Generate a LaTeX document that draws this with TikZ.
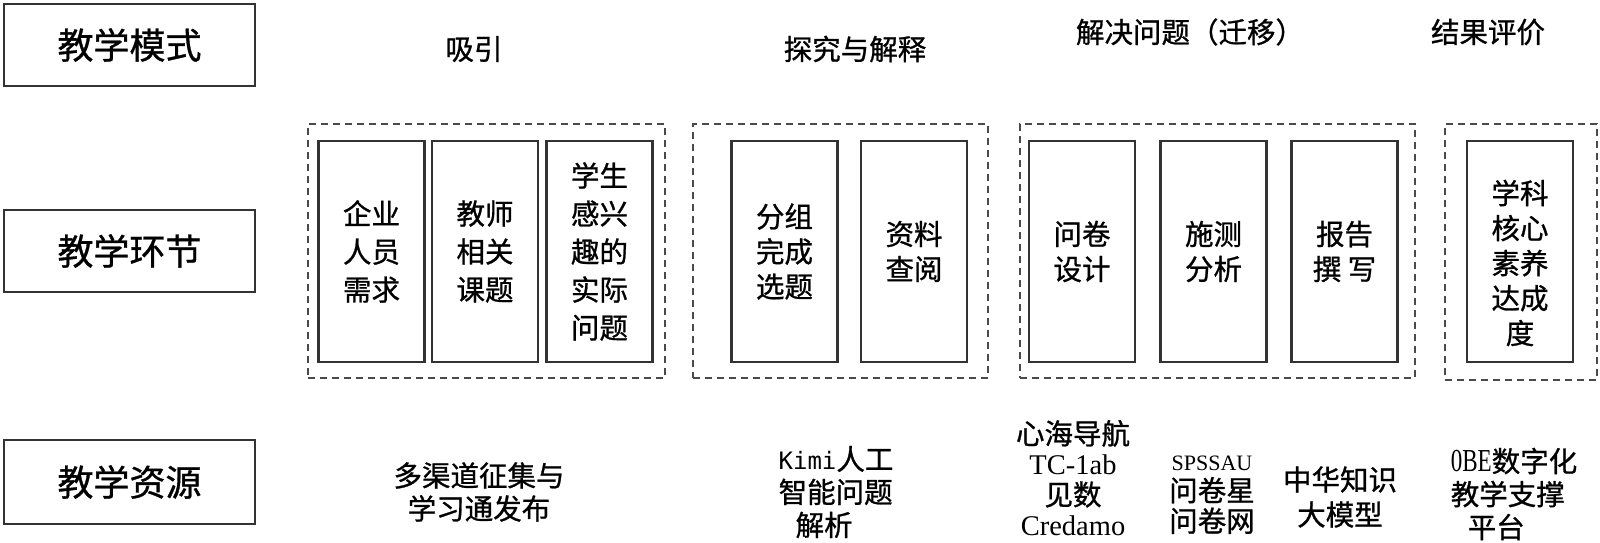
\documentclass[tikz,border=0pt]{standalone}
\usepackage{fontspec}
\setmainfont{Noto Sans CJK SC}[FakeBold=0.9]
\newfontfamily\serifL{Liberation Serif}
\newfontfamily\condserif[FakeStretch=0.72]{Liberation Serif}
\newfontfamily\monoL{DejaVu Sans Mono}
\definecolor{boxc}{HTML}{333333}
\definecolor{dashc}{HTML}{4A4A4A}
\begin{document}
\begin{tikzpicture}[x=1pt,y=-1pt,
  lbl/.style={draw=boxc, line width=2.2pt, minimum width=251pt, minimum height=82pt, inner sep=0pt, font=\fontsize{36}{36}\selectfont},
  grp/.style={draw=dashc, line width=1.8pt, dash pattern=on 7pt off 5pt, inner sep=0pt},
  inbox/.style={draw=boxc, line width=2.2pt, minimum width=106pt, minimum height=221pt, inner sep=0pt, align=center},
  ta/.style={font=\fontsize{28.5}{38}\selectfont},
  tb/.style={font=\fontsize{28.5}{35}\selectfont},
  head/.style={inner sep=0pt, font=\fontsize{28.5}{28.5}\selectfont},
  res/.style={inner sep=0pt, font=\fontsize{28.5}{33}\selectfont}]
\useasboundingbox[fill=white] (0,0) rectangle (1600,542);

% left labels
\node[lbl] (m1) at (129.5,45) {教学模式};
\node[lbl] (m2) at (129.5,251) {教学环节};
\node[lbl, minimum height=84pt] (m3) at (129.5,482) {教学资源};

% headings
\node[head] (h1) at (474,49) {吸引};
\node[head] (h2) at (855,49) {探究与解释};
\node[head] (h3) at (1190,32) {解决问题（迁移）};
\node[head] (h4) at (1488,32) {结果评价};

% dashed groups
\node[grp, minimum width=357pt, minimum height=254pt] (g1) at (486.5,251) {};
\node[grp, minimum width=295pt, minimum height=254pt] (g2) at (840.5,251) {};
\node[grp, minimum width=395pt, minimum height=254pt] (g3) at (1217.5,251) {};
\node[grp, minimum width=152pt, minimum height=256pt] (g4) at (1521,252) {};

% inner boxes
\node[inbox, ta] (b11) at (371.5,251.5) {企业\\人员\\需求};
\node[inbox, ta] (b12) at (485,251.5) {教师\\相关\\课题};
\node[inbox, ta] (b13) at (599.5,251.5) {学生\\感兴\\趣的\\实际\\问题};
\node[inbox, tb] (b21) at (784.5,251.5) {分组\\完成\\选题};
\node[inbox, tb] (b22) at (914,251.5) {资料\\查阅};
\node[inbox, tb] (b31) at (1082,251.5) {问卷\\设计};
\node[inbox, tb] (b32) at (1213.5,251.5) {施测\\分析};
\node[inbox, tb] (b33) at (1344.5,251.5) {报告\\撰 写};
\node[inbox] (b41) at (1520,251.5) {};
\node[inner sep=0pt, align=center, tb] (t41) at (1520,263) {学科\\核心\\素养\\达成\\度};

% resources
\node[res, align=center] (r1) at (479,492) {多渠道征集与\\学习通发布};
\node[res, align=left] (r2) at (836,492) {{\monoL\fontsize{24}{33}\selectfont Kimi}人工\\智能问题\\\hspace*{17pt}解析};
\node[res, align=center, font=\fontsize{28.5}{30.5}\selectfont] (r3) at (1073,478) {心海导航\\{\serifL TC-1ab}\\见数\\{\serifL Credamo}};
\node[res, align=center, font=\fontsize{28.5}{30.5}\selectfont] (r4) at (1212,495) {{\serifL\fontsize{22}{30}\selectfont SPSSAU}\\问卷星\\问卷网};
\node[res, align=center, font=\fontsize{28.5}{35}\selectfont] (r5) at (1340,497) {中华知识\\大模型};
\node[res, align=left] (r6) at (1514,494) {{\condserif\fontsize{32}{33}\selectfont 0BE}数字化\\教学支撑\\\hspace*{17pt}平台};
\end{tikzpicture}
\end{document}
